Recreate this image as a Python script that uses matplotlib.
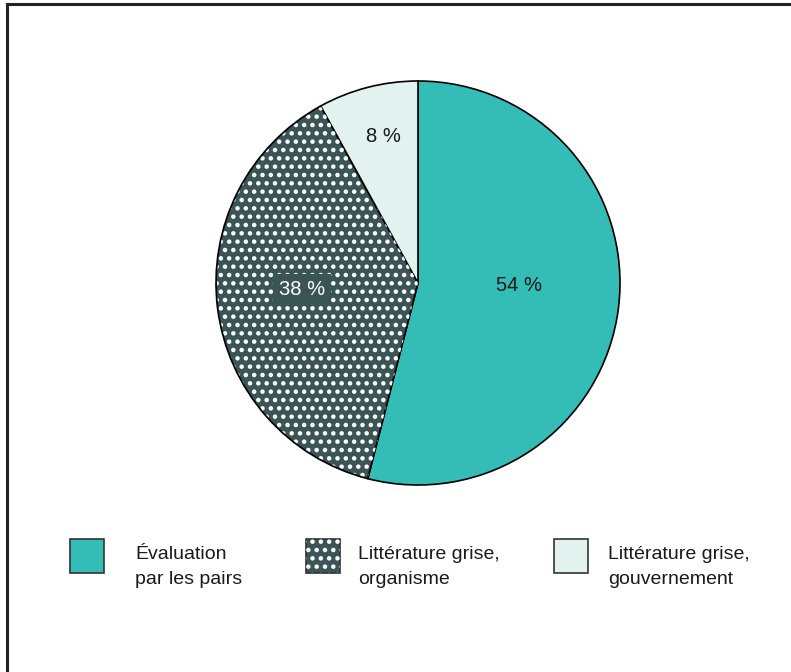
import matplotlib
matplotlib.use("Agg")
import matplotlib.pyplot as plt
from matplotlib.patches import Wedge, Rectangle
from matplotlib.lines import Line2D

plt.rcParams['font.family'] = ['Liberation Sans', 'DejaVu Sans']
plt.rcParams['hatch.linewidth'] = 2.0

# data
categories = ["Évaluation\npar les pairs",
              "Littérature grise,\norganisme",
              "Littérature grise,\ngouvernement"]
shares = [54, 38, 8]
labels = ["54 %", "38 %", "8 %"]
colors = ["#33bdb6", "#3b5455", "#e1f2ef"]
hatches = [None, "..", None]

W, H = 791, 672
fig = plt.figure(figsize=(W / 100, H / 100), dpi=100)

# frame lines (top and left only)
fig.add_artist(Line2D([7 / W, 1], [1 - 4 / H, 1 - 4 / H], color="#222222", lw=2.2))
fig.add_artist(Line2D([7 / W, 7 / W], [0, 1 - 4 / H], color="#222222", lw=2.2))

cx, cy, r = 418, 283, 202
ax = fig.add_axes([(cx - r) / W, (H - cy - r) / H, 2 * r / W, 2 * r / H])

wedges, _ = ax.pie(shares, colors=colors, startangle=90, counterclock=False, radius=1,
                   wedgeprops=dict(edgecolor="black", linewidth=1.2))
for w, h in zip(wedges, hatches):
    if h:
        ov = Wedge(w.center, w.r * 0.995, w.theta1, w.theta2, facecolor="none",
                   edgecolor="white", hatch=h, linewidth=0)
        ax.add_patch(ov)
ax.set_xlim(-1, 1)
ax.set_ylim(-1, 1)
ax.axis("off")

# value labels (positions in axes units)
label_pos = [(0.50, -0.01), (-0.575, -0.03), (-0.17, 0.725)]
for i, (t, (x, y)) in enumerate(zip(labels, label_pos)):
    if i == 1:
        ax.text(x, y, t, ha="center", va="center", fontsize=14.5, color="white",
                bbox=dict(boxstyle="square,pad=0.3", fc=colors[1], ec="none"))
    else:
        ax.text(x, y, t, ha="center", va="center", fontsize=14.5, color="#1a1a1a")

# legend
box_x = [70, 306, 554]
text_x = [135, 358, 608]
for i, cat in enumerate(categories):
    rect = Rectangle((box_x[i] / W, 1 - 573 / H), 34 / W, 34 / H, transform=fig.transFigure,
                     facecolor=colors[i], edgecolor="#333333", linewidth=1.2)
    fig.add_artist(rect)
    if hatches[i]:
        ov = Rectangle((box_x[i] / W, 1 - 573 / H), 34 / W, 34 / H, transform=fig.transFigure,
                       facecolor="none", edgecolor="white", hatch=hatches[i], linewidth=0)
        fig.add_artist(ov)
    fig.text(text_x[i] / W, 1 - 567 / H, cat, ha="left", va="center", fontsize=14,
             color="#1a1a1a", linespacing=1.6)

fig.savefig("out.png", dpi=100, facecolor="white")
